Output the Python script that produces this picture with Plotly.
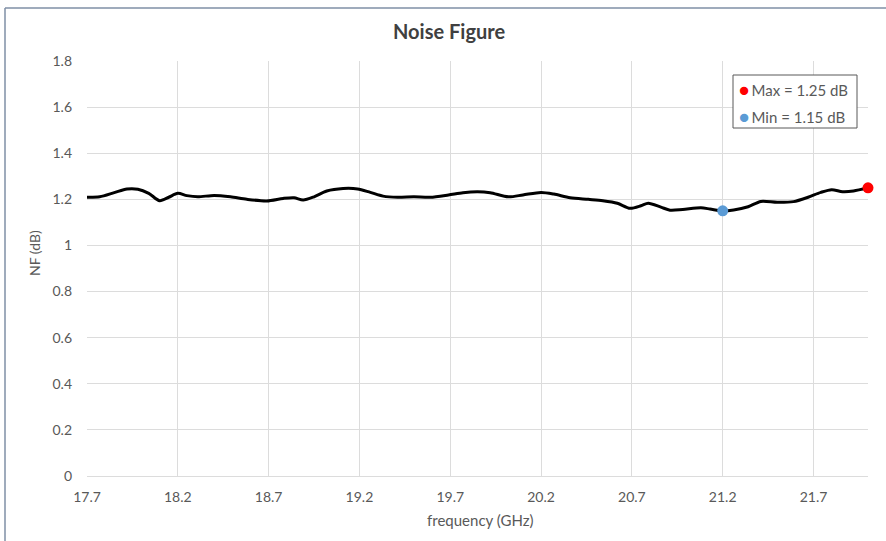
import numpy as np
import plotly.graph_objects as go

# Measured noise figure across the band
freq_ghz = [17.70, 17.77, 17.85, 17.92, 17.98, 18.04, 18.10, 18.15, 18.20, 18.25,
            18.31, 18.40, 18.49, 18.58, 18.69, 18.78, 18.84, 18.89, 18.95, 19.02,
            19.11, 19.19, 19.26, 19.33, 19.41, 19.50, 19.59, 19.69, 19.77, 19.85,
            19.92, 20.02, 20.10, 20.20, 20.27, 20.36, 20.46, 20.54, 20.62, 20.69,
            20.75, 20.79, 20.86, 20.91, 20.98, 21.08, 21.13, 21.20, 21.26, 21.34,
            21.41, 21.50, 21.59, 21.67, 21.74, 21.80, 21.86, 21.92, 22.00]
nf_db = [1.209, 1.211, 1.229, 1.245, 1.244, 1.226, 1.194, 1.209, 1.226, 1.216,
         1.211, 1.217, 1.211, 1.200, 1.193, 1.204, 1.207, 1.197, 1.211, 1.236,
         1.247, 1.245, 1.230, 1.214, 1.209, 1.211, 1.209, 1.219, 1.229, 1.233,
         1.229, 1.211, 1.219, 1.230, 1.223, 1.207, 1.200, 1.194, 1.183, 1.161,
         1.172, 1.183, 1.166, 1.153, 1.156, 1.163, 1.158, 1.150, 1.154, 1.168,
         1.191, 1.187, 1.190, 1.209, 1.230, 1.242, 1.233, 1.236, 1.250]

x_ticks = [17.7, 18.2, 18.7, 19.2, 19.7, 20.2, 20.7, 21.2, 21.7]
y_ticks = [0, 0.2, 0.4, 0.6, 0.8, 1.0, 1.2, 1.4, 1.6, 1.8]
y_tick_text = ["0", "0.2", "0.4", "0.6", "0.8", "1", "1.2", "1.4", "1.6", "1.8"]

i_max = int(np.argmax(nf_db))
i_min = int(np.argmin(nf_db))
max_color = "#FF0000"
min_color = "#5B9BD5"

FONT = "Lato"
TEXT_GRAY = "#595959"
GRID = "#DCDCDC"

W, H = 886, 541
ML, MR, MT, MB = 87, 18, 61, 65
PW, PH = W - ML - MR, H - MT - MB


def px_x(px):
    return (px - ML) / PW


def px_y(py):
    return (H - MB - py) / PH


fig = go.Figure()
fig.add_trace(go.Scatter(
    x=freq_ghz, y=nf_db, mode="lines",
    line=dict(color="black", width=3, shape="spline", smoothing=0.8),
    showlegend=False, hoverinfo="x+y",
))
fig.add_trace(go.Scatter(
    x=[freq_ghz[i_max]], y=[nf_db[i_max]], mode="markers",
    marker=dict(color=max_color, size=11), showlegend=False, cliponaxis=False,
))
fig.add_trace(go.Scatter(
    x=[freq_ghz[i_min]], y=[nf_db[i_min]], mode="markers",
    marker=dict(color=min_color, size=11), showlegend=False, cliponaxis=False,
))

# Legend box with the extreme values
shapes = [
    dict(type="rect", xref="paper", yref="paper",
         x0=px_x(733), x1=px_x(857), y0=px_y(128), y1=px_y(75),
         line=dict(color="#595959", width=1), fillcolor="white"),
    # outer chart frame (left and top edges)
    dict(type="line", xref="paper", yref="paper",
         x0=px_x(5), x1=px_x(5), y0=px_y(8), y1=px_y(560),
         line=dict(color="#7F8FA6", width=1.5)),
    dict(type="line", xref="paper", yref="paper",
         x0=px_x(5), x1=px_x(900), y0=px_y(8), y1=px_y(8),
         line=dict(color="#7F8FA6", width=1.5)),
]


def legend_entry(color, label):
    return (f"<span style='color:{color};font-size:17px'>●</span>"
            f"<span style='font-size:9px'>&nbsp;</span>{label}")


annotations = [
    dict(xref="paper", yref="paper", x=px_x(737), y=px_y(89.5),
         xanchor="left", yanchor="middle", showarrow=False,
         text=legend_entry(max_color, f"Max = {nf_db[i_max]:.2f} dB"),
         font=dict(family=FONT, size=15, color=TEXT_GRAY)),
    dict(xref="paper", yref="paper", x=px_x(737), y=px_y(116),
         xanchor="left", yanchor="middle", showarrow=False,
         text=legend_entry(min_color, f"Min = {nf_db[i_min]:.2f} dB"),
         font=dict(family=FONT, size=15, color=TEXT_GRAY)),
    dict(xref="paper", yref="paper", x=px_x(35), y=px_y(253),
         xanchor="center", yanchor="middle", showarrow=False, textangle=-90,
         text="NF (dB)", font=dict(family=FONT, size=14, color=TEXT_GRAY)),
    dict(xref="paper", yref="paper", x=px_x(480), y=px_y(520),
         xanchor="center", yanchor="middle", showarrow=False,
         text="frequency (GHz)", font=dict(family=FONT, size=15, color=TEXT_GRAY)),
    dict(xref="paper", yref="paper", x=px_x(449), y=px_y(31),
         xanchor="center", yanchor="middle", showarrow=False,
         text="<b>Noise Figure</b>", font=dict(family=FONT, size=20, color="#404040")),
]

fig.update_layout(
    width=W, height=H,
    margin=dict(l=ML, r=MR, t=MT, b=MB),
    paper_bgcolor="white", plot_bgcolor="white",
    font=dict(family=FONT, size=14, color=TEXT_GRAY),
    shapes=shapes, annotations=annotations,
    showlegend=False,
)
fig.update_xaxes(
    range=[17.7, 22.0], tickvals=x_ticks, ticktext=[f"{v:.1f}" for v in x_ticks],
    showgrid=True, gridcolor=GRID, gridwidth=1,
    showline=True, linecolor=GRID, linewidth=1,
    ticks="", ticklabelstandoff=8, zeroline=False,
    tickfont=dict(family=FONT, size=14, color=TEXT_GRAY),
)
fig.update_yaxes(
    range=[0, 1.8], tickvals=y_ticks, ticktext=y_tick_text,
    showgrid=True, gridcolor=GRID, gridwidth=1,
    showline=False, ticks="", ticklabelstandoff=14, zeroline=False,
    tickfont=dict(family=FONT, size=14, color=TEXT_GRAY),
)

fig.write_html("out.html")
